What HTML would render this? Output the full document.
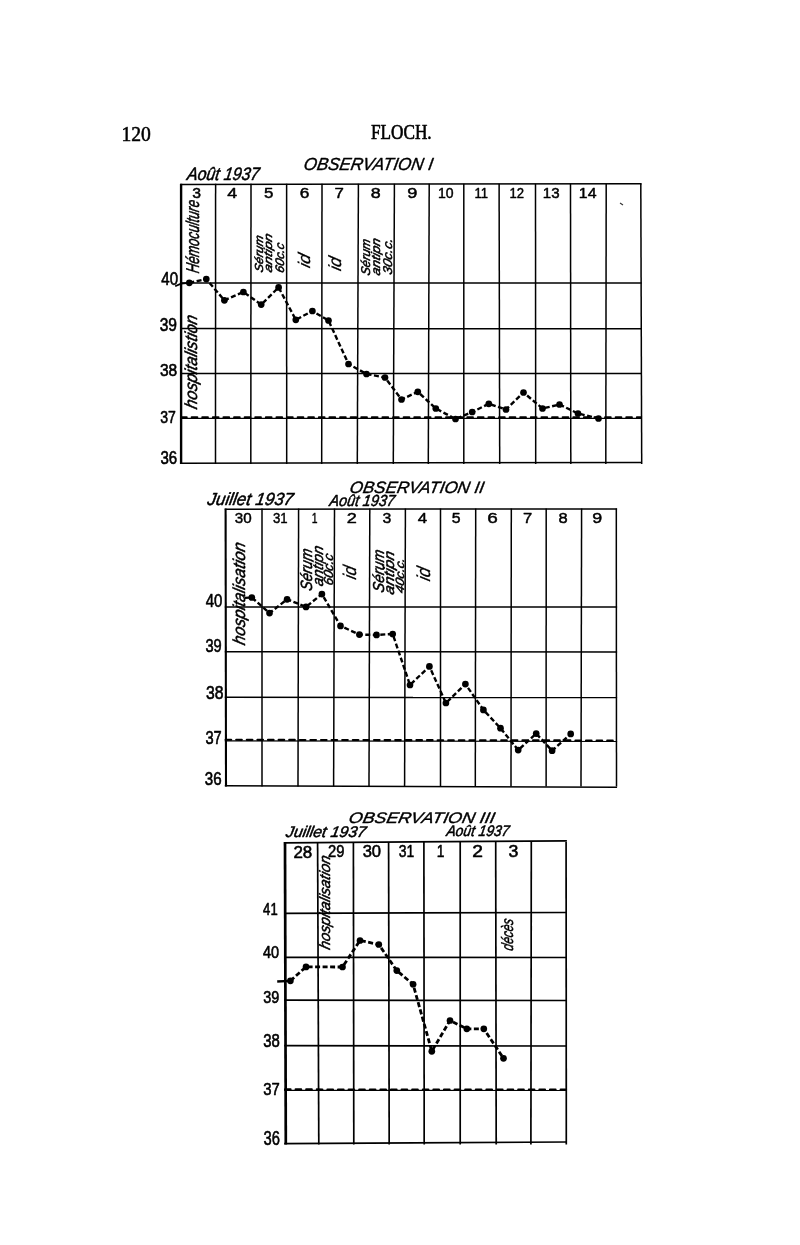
<!DOCTYPE html>
<html lang="fr"><head><meta charset="utf-8"><title>FLOCH. — Observations I, II, III</title>
<style>
html,body{margin:0;padding:0;background:#fff;}
body{width:800px;height:1245px;overflow:hidden;}
svg{display:block;}
text{white-space:pre;}
</style></head><body>
<svg width="800" height="1245" viewBox="0 0 800 1245">
<defs><filter id="soft" x="0" y="0" width="100%" height="100%" filterUnits="userSpaceOnUse"><feGaussianBlur stdDeviation="0.35"/></filter></defs>
<rect width="800" height="1245" fill="#fff"/>
<g filter="url(#soft)">
<text transform="translate(121.38,140.60) scale(0.974,1)" font-family='"Liberation Serif", serif' font-size="20.15" fill="#060606" stroke="#060606" stroke-width="0.55" stroke-linejoin="round">120</text>
<text transform="translate(370.98,138.70) scale(0.853,1)" font-family='"Liberation Serif", serif' font-size="20.15" fill="#060606" stroke="#060606" stroke-width="0.65" stroke-linejoin="round">FLOCH.</text>
<line x1="181.10" y1="183.70" x2="181.10" y2="463.90" stroke="#060606" stroke-width="2.4"/>
<line x1="215.60" y1="183.70" x2="215.50" y2="463.90" stroke="#060606" stroke-width="1.5"/>
<line x1="251.00" y1="183.70" x2="250.80" y2="463.90" stroke="#060606" stroke-width="1.5"/>
<line x1="286.60" y1="183.70" x2="286.70" y2="463.90" stroke="#060606" stroke-width="1.5"/>
<line x1="322.00" y1="183.70" x2="321.70" y2="463.90" stroke="#060606" stroke-width="1.5"/>
<line x1="358.40" y1="183.70" x2="357.30" y2="463.90" stroke="#060606" stroke-width="1.5"/>
<line x1="394.40" y1="183.70" x2="393.30" y2="463.90" stroke="#060606" stroke-width="1.5"/>
<line x1="429.20" y1="183.70" x2="428.30" y2="463.90" stroke="#060606" stroke-width="1.5"/>
<line x1="463.80" y1="183.70" x2="463.80" y2="463.90" stroke="#060606" stroke-width="1.5"/>
<line x1="499.10" y1="183.70" x2="499.70" y2="463.90" stroke="#060606" stroke-width="1.5"/>
<line x1="535.50" y1="183.70" x2="535.70" y2="463.90" stroke="#060606" stroke-width="1.5"/>
<line x1="570.50" y1="183.70" x2="570.80" y2="463.90" stroke="#060606" stroke-width="1.5"/>
<line x1="606.20" y1="183.70" x2="605.80" y2="463.90" stroke="#060606" stroke-width="1.5"/>
<line x1="640.80" y1="183.70" x2="641.70" y2="463.90" stroke="#060606" stroke-width="1.5"/>
<line x1="180.30" y1="184.40" x2="641.60" y2="183.80" stroke="#060606" stroke-width="1.5"/>
<line x1="180.30" y1="283.00" x2="641.60" y2="283.10" stroke="#060606" stroke-width="1.5"/>
<line x1="180.30" y1="328.50" x2="641.60" y2="328.80" stroke="#060606" stroke-width="1.5"/>
<line x1="180.30" y1="373.50" x2="641.60" y2="373.60" stroke="#060606" stroke-width="1.5"/>
<line x1="180.30" y1="418.40" x2="641.60" y2="418.40" stroke="#060606" stroke-width="1.15"/>
<line x1="180.30" y1="463.20" x2="641.60" y2="462.50" stroke="#060606" stroke-width="1.5"/>
<line x1="181.1" y1="417.3" x2="640.8" y2="417.3" stroke="#060606" stroke-width="2.1" stroke-dasharray="5.6 5" stroke-linecap="round"/>
<text transform="translate(303.10,169.50) scale(0.970,1) skewX(-10)" font-family='"Liberation Sans", sans-serif' font-size="17.45" fill="#060606" font-style="italic" stroke="#060606" stroke-width="0.4" stroke-linejoin="round">OBSERVATION I</text>
<text transform="translate(186.38,180.00) scale(0.877,1) skewX(-10)" font-family='"Liberation Sans", sans-serif' font-size="18.04" fill="#060606" font-style="italic" stroke="#060606" stroke-width="0.5" stroke-linejoin="round">Août 1937</text>
<text transform="translate(192.16,198.00) scale(1.128,1)" font-family='"Liberation Sans", sans-serif' font-size="13.99" fill="#060606" stroke="#060606" stroke-width="0.45" stroke-linejoin="round">3</text>
<text transform="translate(227.20,198.00) scale(1.274,1)" font-family='"Liberation Sans", sans-serif' font-size="13.99" fill="#060606" stroke="#060606" stroke-width="0.45" stroke-linejoin="round">4</text>
<text transform="translate(263.93,198.00) scale(1.204,1)" font-family='"Liberation Sans", sans-serif' font-size="13.99" fill="#060606" stroke="#060606" stroke-width="0.45" stroke-linejoin="round">5</text>
<text transform="translate(299.74,198.00) scale(1.236,1)" font-family='"Liberation Sans", sans-serif' font-size="13.99" fill="#060606" stroke="#060606" stroke-width="0.45" stroke-linejoin="round">6</text>
<text transform="translate(334.42,198.00) scale(1.200,1)" font-family='"Liberation Sans", sans-serif' font-size="13.99" fill="#060606" stroke="#060606" stroke-width="0.45" stroke-linejoin="round">7</text>
<text transform="translate(370.84,198.00) scale(1.277,1)" font-family='"Liberation Sans", sans-serif' font-size="13.99" fill="#060606" stroke="#060606" stroke-width="0.45" stroke-linejoin="round">8</text>
<text transform="translate(407.34,198.00) scale(1.298,1)" font-family='"Liberation Sans", sans-serif' font-size="13.99" fill="#060606" stroke="#060606" stroke-width="0.45" stroke-linejoin="round">9</text>
<text transform="translate(437.95,198.00) scale(1.003,1)" font-family='"Liberation Sans", sans-serif' font-size="13.99" fill="#060606" stroke="#060606" stroke-width="0.45" stroke-linejoin="round">10</text>
<text transform="translate(474.42,198.00) scale(0.937,1)" font-family='"Liberation Sans", sans-serif' font-size="13.99" fill="#060606" stroke="#060606" stroke-width="0.45" stroke-linejoin="round">11</text>
<text transform="translate(509.52,198.00) scale(0.936,1)" font-family='"Liberation Sans", sans-serif' font-size="13.99" fill="#060606" stroke="#060606" stroke-width="0.45" stroke-linejoin="round">12</text>
<text transform="translate(542.87,198.00) scale(1.080,1)" font-family='"Liberation Sans", sans-serif' font-size="13.99" fill="#060606" stroke="#060606" stroke-width="0.45" stroke-linejoin="round">13</text>
<text transform="translate(578.81,198.00) scale(1.135,1)" font-family='"Liberation Sans", sans-serif' font-size="13.99" fill="#060606" stroke="#060606" stroke-width="0.45" stroke-linejoin="round">14</text>
<text transform="translate(161.26,284.50) scale(0.859,1)" font-family='"Liberation Sans", sans-serif' font-size="17.53" fill="#060606" stroke="#060606" stroke-width="0.6" stroke-linejoin="round">40</text>
<text transform="translate(159.72,331.40) scale(0.874,1)" font-family='"Liberation Sans", sans-serif' font-size="17.81" fill="#060606" stroke="#060606" stroke-width="0.6" stroke-linejoin="round">39</text>
<text transform="translate(159.92,375.60) scale(0.947,1)" font-family='"Liberation Sans", sans-serif' font-size="16.40" fill="#060606" stroke="#060606" stroke-width="0.6" stroke-linejoin="round">38</text>
<text transform="translate(160.27,422.50) scale(0.830,1)" font-family='"Liberation Sans", sans-serif' font-size="16.96" fill="#060606" stroke="#060606" stroke-width="0.6" stroke-linejoin="round">37</text>
<text transform="translate(160.44,464.00) scale(0.832,1)" font-family='"Liberation Sans", sans-serif' font-size="18.09" fill="#060606" stroke="#060606" stroke-width="0.6" stroke-linejoin="round">36</text>
<text transform="translate(198.75,273.85) rotate(-90) scale(0.694,1) skewX(-14)" font-family='"Liberation Sans", sans-serif' font-size="18.55" fill="#060606" font-style="italic" stroke="#060606" stroke-width="0.5" stroke-linejoin="round">Hémoculture</text>
<text transform="translate(197.00,409.75) rotate(-90) scale(0.931,1) skewX(-14)" font-family='"Liberation Sans", sans-serif' font-size="17.38" fill="#060606" font-style="italic" stroke="#060606" stroke-width="0.5" stroke-linejoin="round">hospitalistion</text>
<text transform="translate(262.50,273.06) rotate(-90) scale(1.072,1) skewX(-14)" font-family='"Liberation Sans", sans-serif' font-size="11.66" fill="#060606" font-style="italic" stroke="#060606" stroke-width="0.5" stroke-linejoin="round">Sérum</text>
<text transform="translate(272.25,273.09) rotate(-90) scale(1.234,1) skewX(-14)" font-family='"Liberation Sans", sans-serif' font-size="11.45" fill="#060606" font-style="italic" stroke="#060606" stroke-width="0.5" stroke-linejoin="round">antipn</text>
<text transform="translate(284.00,273.40) rotate(-90) scale(1.005,1) skewX(-14)" font-family='"Liberation Sans", sans-serif' font-size="12.37" fill="#060606" font-style="italic" stroke="#060606" stroke-width="0.5" stroke-linejoin="round">60c.c</text>
<text transform="translate(309.70,268.46) rotate(-90) scale(1.020,1) skewX(-14)" font-family='"Liberation Sans", sans-serif' font-size="16.87" fill="#060606" font-style="italic" stroke="#060606" stroke-width="0.3" stroke-linejoin="round">id</text>
<text transform="translate(340.50,271.45) rotate(-90) scale(0.955,1) skewX(-14)" font-family='"Liberation Sans", sans-serif' font-size="17.69" fill="#060606" font-style="italic" stroke="#060606" stroke-width="0.3" stroke-linejoin="round">id</text>
<text transform="translate(369.75,276.06) rotate(-90) scale(0.964,1) skewX(-14)" font-family='"Liberation Sans", sans-serif' font-size="12.72" fill="#060606" font-style="italic" stroke="#060606" stroke-width="0.5" stroke-linejoin="round">Sérum</text>
<text transform="translate(379.80,276.11) rotate(-90) scale(1.092,1) skewX(-14)" font-family='"Liberation Sans", sans-serif' font-size="12.37" fill="#060606" font-style="italic" stroke="#060606" stroke-width="0.5" stroke-linejoin="round">antipn</text>
<text transform="translate(392.25,275.31) rotate(-90) scale(1.071,1) skewX(-14)" font-family='"Liberation Sans", sans-serif' font-size="12.72" fill="#060606" font-style="italic" stroke="#060606" stroke-width="0.5" stroke-linejoin="round">30c.c.</text>
<polyline points="189.3,282.8 206.3,279.1 224.4,300.3 243.4,292.0 261.2,304.6 278.6,287.4 295.8,319.8 312.4,311.0 328.5,320.5 348.5,364.0 366.5,374.0 385.0,377.5 401.5,399.5 417.8,391.8 435.8,408.5 455.5,419.0 472.2,412.0 488.8,403.8 506.0,409.5 523.5,392.5 542.5,408.5 559.5,404.5 578.0,413.5 598.5,418.5" fill="none" stroke="#060606" stroke-width="2.4" stroke-dasharray="5 2.5" stroke-linejoin="round"/>
<circle cx="189.3" cy="282.8" r="3.35" fill="#060606"/>
<circle cx="206.3" cy="279.1" r="3.35" fill="#060606"/>
<circle cx="224.4" cy="300.3" r="3.35" fill="#060606"/>
<circle cx="243.4" cy="292.0" r="3.35" fill="#060606"/>
<circle cx="261.2" cy="304.6" r="3.35" fill="#060606"/>
<circle cx="278.6" cy="287.4" r="3.35" fill="#060606"/>
<circle cx="295.8" cy="319.8" r="3.35" fill="#060606"/>
<circle cx="312.4" cy="311.0" r="3.35" fill="#060606"/>
<circle cx="328.5" cy="320.5" r="3.35" fill="#060606"/>
<circle cx="348.5" cy="364.0" r="3.35" fill="#060606"/>
<circle cx="366.5" cy="374.0" r="3.35" fill="#060606"/>
<circle cx="385.0" cy="377.5" r="3.35" fill="#060606"/>
<circle cx="401.5" cy="399.5" r="3.35" fill="#060606"/>
<circle cx="417.8" cy="391.8" r="3.35" fill="#060606"/>
<circle cx="435.8" cy="408.5" r="3.35" fill="#060606"/>
<circle cx="455.5" cy="419.0" r="3.35" fill="#060606"/>
<circle cx="472.2" cy="412.0" r="3.35" fill="#060606"/>
<circle cx="488.8" cy="403.8" r="3.35" fill="#060606"/>
<circle cx="506.0" cy="409.5" r="3.35" fill="#060606"/>
<circle cx="523.5" cy="392.5" r="3.35" fill="#060606"/>
<circle cx="542.5" cy="408.5" r="3.35" fill="#060606"/>
<circle cx="559.5" cy="404.5" r="3.35" fill="#060606"/>
<circle cx="578.0" cy="413.5" r="3.35" fill="#060606"/>
<circle cx="598.5" cy="418.5" r="3.35" fill="#060606"/>
<path d="M175.2 286.3 L181 283.6 L189 282.8" stroke="#060606" stroke-width="1.8" fill="none"/>
<path d="M620 203 l3 2" stroke="#333" stroke-width="1.2" fill="none"/>
<line x1="225.60" y1="508.50" x2="226.00" y2="786.50" stroke="#060606" stroke-width="2.1"/>
<line x1="262.00" y1="508.50" x2="262.00" y2="786.50" stroke="#060606" stroke-width="1.5"/>
<line x1="298.60" y1="508.50" x2="298.00" y2="786.50" stroke="#060606" stroke-width="1.5"/>
<line x1="334.50" y1="508.50" x2="333.60" y2="786.50" stroke="#060606" stroke-width="1.5"/>
<line x1="369.80" y1="508.50" x2="369.00" y2="786.50" stroke="#060606" stroke-width="1.5"/>
<line x1="405.40" y1="508.50" x2="404.60" y2="786.50" stroke="#060606" stroke-width="1.5"/>
<line x1="440.50" y1="508.50" x2="440.50" y2="786.50" stroke="#060606" stroke-width="1.5"/>
<line x1="475.70" y1="508.50" x2="475.30" y2="786.50" stroke="#060606" stroke-width="1.5"/>
<line x1="511.30" y1="508.50" x2="511.00" y2="786.50" stroke="#060606" stroke-width="1.5"/>
<line x1="546.20" y1="508.50" x2="546.10" y2="786.50" stroke="#060606" stroke-width="1.5"/>
<line x1="581.60" y1="508.50" x2="581.00" y2="786.50" stroke="#060606" stroke-width="1.5"/>
<line x1="616.30" y1="508.50" x2="616.50" y2="786.50" stroke="#060606" stroke-width="1.5"/>
<line x1="224.80" y1="509.20" x2="617.10" y2="509.00" stroke="#060606" stroke-width="1.5"/>
<line x1="224.80" y1="606.90" x2="617.10" y2="607.00" stroke="#060606" stroke-width="1.5"/>
<line x1="224.80" y1="651.70" x2="617.10" y2="652.00" stroke="#060606" stroke-width="1.5"/>
<line x1="224.80" y1="697.30" x2="617.10" y2="697.60" stroke="#060606" stroke-width="1.5"/>
<line x1="224.80" y1="740.80" x2="617.10" y2="741.50" stroke="#060606" stroke-width="1.15"/>
<line x1="224.80" y1="785.80" x2="617.10" y2="787.20" stroke="#060606" stroke-width="1.5"/>
<line x1="225.6" y1="739.8" x2="616.3" y2="740.5" stroke="#060606" stroke-width="2.1" stroke-dasharray="5.6 5" stroke-linecap="round"/>
<text transform="translate(349.10,492.80) scale(1.032,1) skewX(-10)" font-family='"Liberation Sans", sans-serif' font-size="16.44" fill="#060606" font-style="italic" stroke="#060606" stroke-width="0.4" stroke-linejoin="round">OBSERVATION II</text>
<text transform="translate(206.82,504.50) scale(0.971,1) skewX(-10)" font-family='"Liberation Sans", sans-serif' font-size="17.45" fill="#060606" font-style="italic" stroke="#060606" stroke-width="0.5" stroke-linejoin="round">Juillet 1937</text>
<text transform="translate(328.96,505.50) scale(0.895,1) skewX(-10)" font-family='"Liberation Sans", sans-serif' font-size="16.00" fill="#060606" font-style="italic" stroke="#060606" stroke-width="0.5" stroke-linejoin="round">Août 1937</text>
<text transform="translate(234.68,523.20) scale(1.045,1)" font-family='"Liberation Sans", sans-serif' font-size="14.56" fill="#060606" stroke="#060606" stroke-width="0.45" stroke-linejoin="round">30</text>
<text transform="translate(273.01,523.20) scale(0.905,1)" font-family='"Liberation Sans", sans-serif' font-size="14.56" fill="#060606" stroke="#060606" stroke-width="0.45" stroke-linejoin="round">31</text>
<text transform="translate(311.72,523.20) scale(0.715,1)" font-family='"Liberation Sans", sans-serif' font-size="14.56" fill="#060606" stroke="#060606" stroke-width="0.45" stroke-linejoin="round">1</text>
<text transform="translate(346.84,523.20) scale(1.245,1)" font-family='"Liberation Sans", sans-serif' font-size="14.56" fill="#060606" stroke="#060606" stroke-width="0.45" stroke-linejoin="round">2</text>
<text transform="translate(382.41,523.20) scale(1.085,1)" font-family='"Liberation Sans", sans-serif' font-size="14.56" fill="#060606" stroke="#060606" stroke-width="0.45" stroke-linejoin="round">3</text>
<text transform="translate(417.87,523.20) scale(1.163,1)" font-family='"Liberation Sans", sans-serif' font-size="14.56" fill="#060606" stroke="#060606" stroke-width="0.45" stroke-linejoin="round">4</text>
<text transform="translate(451.87,523.20) scale(1.085,1)" font-family='"Liberation Sans", sans-serif' font-size="14.56" fill="#060606" stroke="#060606" stroke-width="0.45" stroke-linejoin="round">5</text>
<text transform="translate(487.30,523.20) scale(1.300,1)" font-family='"Liberation Sans", sans-serif' font-size="14.56" fill="#060606" stroke="#060606" stroke-width="0.45" stroke-linejoin="round">6</text>
<text transform="translate(522.88,523.20) scale(1.138,1)" font-family='"Liberation Sans", sans-serif' font-size="14.56" fill="#060606" stroke="#060606" stroke-width="0.45" stroke-linejoin="round">7</text>
<text transform="translate(558.55,523.20) scale(1.133,1)" font-family='"Liberation Sans", sans-serif' font-size="14.56" fill="#060606" stroke="#060606" stroke-width="0.45" stroke-linejoin="round">8</text>
<text transform="translate(592.15,523.20) scale(1.225,1)" font-family='"Liberation Sans", sans-serif' font-size="14.56" fill="#060606" stroke="#060606" stroke-width="0.45" stroke-linejoin="round">9</text>
<text transform="translate(205.66,606.50) scale(0.810,1)" font-family='"Liberation Sans", sans-serif' font-size="18.52" fill="#060606" stroke="#060606" stroke-width="0.6" stroke-linejoin="round">40</text>
<text transform="translate(205.45,652.25) scale(0.810,1)" font-family='"Liberation Sans", sans-serif' font-size="18.02" fill="#060606" stroke="#060606" stroke-width="0.6" stroke-linejoin="round">39</text>
<text transform="translate(205.91,699.20) scale(0.869,1)" font-family='"Liberation Sans", sans-serif' font-size="18.09" fill="#060606" stroke="#060606" stroke-width="0.6" stroke-linejoin="round">38</text>
<text transform="translate(205.45,743.60) scale(0.811,1)" font-family='"Liberation Sans", sans-serif' font-size="18.09" fill="#060606" stroke="#060606" stroke-width="0.6" stroke-linejoin="round">37</text>
<text transform="translate(204.83,785.40) scale(0.857,1)" font-family='"Liberation Sans", sans-serif' font-size="17.67" fill="#060606" stroke="#060606" stroke-width="0.6" stroke-linejoin="round">36</text>
<text transform="translate(244.80,645.70) rotate(-90) scale(0.936,1) skewX(-14)" font-family='"Liberation Sans", sans-serif' font-size="17.24" fill="#060606" font-style="italic" stroke="#060606" stroke-width="0.5" stroke-linejoin="round">hospitalisation</text>
<text transform="translate(311.90,591.55) rotate(-90) scale(0.873,1) skewX(-14)" font-family='"Liberation Sans", sans-serif' font-size="16.25" fill="#060606" font-style="italic" stroke="#060606" stroke-width="0.5" stroke-linejoin="round">Sérum</text>
<text transform="translate(322.60,586.77) rotate(-90) scale(0.977,1) skewX(-14)" font-family='"Liberation Sans", sans-serif' font-size="14.96" fill="#060606" font-style="italic" stroke="#060606" stroke-width="0.5" stroke-linejoin="round">antipn</text>
<text transform="translate(332.50,585.99) rotate(-90) scale(0.988,1) skewX(-14)" font-family='"Liberation Sans", sans-serif' font-size="13.29" fill="#060606" font-style="italic" stroke="#060606" stroke-width="0.5" stroke-linejoin="round">60c.c</text>
<text transform="translate(355.80,579.94) rotate(-90) scale(0.881,1) skewX(-14)" font-family='"Liberation Sans", sans-serif' font-size="18.37" fill="#060606" font-style="italic" stroke="#060606" stroke-width="0.3" stroke-linejoin="round">id</text>
<text transform="translate(384.00,593.16) rotate(-90) scale(0.910,1) skewX(-14)" font-family='"Liberation Sans", sans-serif' font-size="15.83" fill="#060606" font-style="italic" stroke="#060606" stroke-width="0.5" stroke-linejoin="round">Sérum</text>
<text transform="translate(394.40,595.14) rotate(-90) scale(1.094,1) skewX(-14)" font-family='"Liberation Sans", sans-serif' font-size="14.35" fill="#060606" font-style="italic" stroke="#060606" stroke-width="0.5" stroke-linejoin="round">antipn</text>
<text transform="translate(403.75,593.82) rotate(-90) scale(1.096,1) skewX(-14)" font-family='"Liberation Sans", sans-serif' font-size="12.01" fill="#060606" font-style="italic" stroke="#060606" stroke-width="0.5" stroke-linejoin="round">40c.c.</text>
<text transform="translate(430.20,581.76) rotate(-90) scale(0.905,1) skewX(-14)" font-family='"Liberation Sans", sans-serif' font-size="18.78" fill="#060606" font-style="italic" stroke="#060606" stroke-width="0.3" stroke-linejoin="round">id</text>
<polyline points="244.6,597.9 251.8,597.5 269.5,613.1 287.1,599.3 306.0,606.9 321.9,594.1 340.5,625.9 359.4,634.6 376.5,634.9 392.7,634.0 410.0,685.0 429.4,666.4 445.9,703.0 465.4,684.1 483.4,709.9 500.5,728.2 518.2,750.1 536.2,733.6 552.1,750.7 570.7,733.9" fill="none" stroke="#060606" stroke-width="2.4" stroke-dasharray="5 2.5" stroke-linejoin="round"/>
<circle cx="251.8" cy="597.5" r="3.35" fill="#060606"/>
<circle cx="269.5" cy="613.1" r="3.35" fill="#060606"/>
<circle cx="287.1" cy="599.3" r="3.35" fill="#060606"/>
<circle cx="306.0" cy="606.9" r="3.35" fill="#060606"/>
<circle cx="321.9" cy="594.1" r="3.35" fill="#060606"/>
<circle cx="340.5" cy="625.9" r="3.35" fill="#060606"/>
<circle cx="359.4" cy="634.6" r="3.35" fill="#060606"/>
<circle cx="376.5" cy="634.9" r="3.35" fill="#060606"/>
<circle cx="392.7" cy="634.0" r="3.35" fill="#060606"/>
<circle cx="410.0" cy="685.0" r="3.35" fill="#060606"/>
<circle cx="429.4" cy="666.4" r="3.35" fill="#060606"/>
<circle cx="445.9" cy="703.0" r="3.35" fill="#060606"/>
<circle cx="465.4" cy="684.1" r="3.35" fill="#060606"/>
<circle cx="483.4" cy="709.9" r="3.35" fill="#060606"/>
<circle cx="500.5" cy="728.2" r="3.35" fill="#060606"/>
<circle cx="518.2" cy="750.1" r="3.35" fill="#060606"/>
<circle cx="536.2" cy="733.6" r="3.35" fill="#060606"/>
<circle cx="552.1" cy="750.7" r="3.35" fill="#060606"/>
<circle cx="570.7" cy="733.9" r="3.35" fill="#060606"/>
<line x1="285.00" y1="842.10" x2="285.80" y2="1144.40" stroke="#060606" stroke-width="2.7"/>
<line x1="317.60" y1="842.10" x2="318.80" y2="1144.40" stroke="#060606" stroke-width="1.7"/>
<line x1="353.40" y1="842.10" x2="353.80" y2="1144.40" stroke="#060606" stroke-width="1.7"/>
<line x1="388.60" y1="842.10" x2="389.20" y2="1144.40" stroke="#060606" stroke-width="1.7"/>
<line x1="423.90" y1="842.10" x2="424.20" y2="1144.40" stroke="#060606" stroke-width="1.7"/>
<line x1="460.20" y1="842.10" x2="460.20" y2="1144.40" stroke="#060606" stroke-width="1.7"/>
<line x1="495.70" y1="842.10" x2="496.20" y2="1144.40" stroke="#060606" stroke-width="1.7"/>
<line x1="531.30" y1="842.10" x2="530.90" y2="1144.40" stroke="#060606" stroke-width="1.7"/>
<line x1="566.10" y1="842.10" x2="566.30" y2="1144.40" stroke="#060606" stroke-width="1.7"/>
<line x1="284.20" y1="842.80" x2="566.90" y2="840.80" stroke="#060606" stroke-width="1.7"/>
<line x1="284.20" y1="913.30" x2="566.90" y2="912.50" stroke="#060606" stroke-width="1.7"/>
<line x1="284.20" y1="957.30" x2="566.90" y2="957.50" stroke="#060606" stroke-width="1.7"/>
<line x1="284.20" y1="1000.10" x2="566.90" y2="1000.50" stroke="#060606" stroke-width="1.7"/>
<line x1="284.20" y1="1045.70" x2="566.90" y2="1046.00" stroke="#060606" stroke-width="1.7"/>
<line x1="284.20" y1="1090.30" x2="566.90" y2="1090.50" stroke="#060606" stroke-width="1.15"/>
<line x1="284.20" y1="1143.70" x2="566.90" y2="1142.00" stroke="#060606" stroke-width="1.7"/>
<line x1="285.0" y1="1089.4" x2="566.1" y2="1089.6" stroke="#060606" stroke-width="2.1" stroke-dasharray="5.6 5" stroke-linecap="round"/>
<text transform="translate(348.05,822.60) scale(1.167,1) skewX(-10)" font-family='"Liberation Sans", sans-serif' font-size="15.27" fill="#060606" font-style="italic" stroke="#060606" stroke-width="0.4" stroke-linejoin="round">OBSERVATION III</text>
<text transform="translate(285.32,836.50) scale(1.025,1) skewX(-10)" font-family='"Liberation Sans", sans-serif' font-size="15.42" fill="#060606" font-style="italic" stroke="#060606" stroke-width="0.5" stroke-linejoin="round">Juillet 1937</text>
<text transform="translate(445.93,835.60) scale(0.902,1) skewX(-10)" font-family='"Liberation Sans", sans-serif' font-size="15.27" fill="#060606" font-style="italic" stroke="#060606" stroke-width="0.5" stroke-linejoin="round">Août 1937</text>
<text transform="translate(293.40,857.90) scale(1.034,1)" font-family='"Liberation Sans", sans-serif' font-size="16.40" fill="#060606" stroke="#060606" stroke-width="0.55" stroke-linejoin="round">28</text>
<text transform="translate(328.01,857.40) scale(0.901,1)" font-family='"Liberation Sans", sans-serif' font-size="16.40" fill="#060606" stroke="#060606" stroke-width="0.55" stroke-linejoin="round">29</text>
<text transform="translate(362.63,857.40) scale(1.011,1)" font-family='"Liberation Sans", sans-serif' font-size="16.40" fill="#060606" stroke="#060606" stroke-width="0.55" stroke-linejoin="round">30</text>
<text transform="translate(398.73,857.40) scale(0.848,1)" font-family='"Liberation Sans", sans-serif' font-size="16.40" fill="#060606" stroke="#060606" stroke-width="0.55" stroke-linejoin="round">31</text>
<text transform="translate(436.76,857.10) scale(0.846,1)" font-family='"Liberation Sans", sans-serif' font-size="16.40" fill="#060606" stroke="#060606" stroke-width="0.55" stroke-linejoin="round">1</text>
<text transform="translate(472.29,856.90) scale(1.173,1)" font-family='"Liberation Sans", sans-serif' font-size="16.40" fill="#060606" stroke="#060606" stroke-width="0.55" stroke-linejoin="round">2</text>
<text transform="translate(508.44,856.90) scale(1.079,1)" font-family='"Liberation Sans", sans-serif' font-size="16.40" fill="#060606" stroke="#060606" stroke-width="0.55" stroke-linejoin="round">3</text>
<text transform="translate(263.11,915.30) scale(0.765,1)" font-family='"Liberation Sans", sans-serif' font-size="17.10" fill="#060606" stroke="#060606" stroke-width="0.6" stroke-linejoin="round">41</text>
<text transform="translate(263.07,958.30) scale(0.850,1)" font-family='"Liberation Sans", sans-serif' font-size="17.03" fill="#060606" stroke="#060606" stroke-width="0.6" stroke-linejoin="round">40</text>
<text transform="translate(263.26,1002.50) scale(0.849,1)" font-family='"Liberation Sans", sans-serif' font-size="16.96" fill="#060606" stroke="#060606" stroke-width="0.6" stroke-linejoin="round">39</text>
<text transform="translate(263.24,1047.30) scale(0.846,1)" font-family='"Liberation Sans", sans-serif' font-size="17.67" fill="#060606" stroke="#060606" stroke-width="0.6" stroke-linejoin="round">38</text>
<text transform="translate(263.24,1095.40) scale(0.862,1)" font-family='"Liberation Sans", sans-serif' font-size="17.24" fill="#060606" stroke="#060606" stroke-width="0.6" stroke-linejoin="round">37</text>
<text transform="translate(263.45,1144.90) scale(0.751,1)" font-family='"Liberation Sans", sans-serif' font-size="19.65" fill="#060606" stroke="#060606" stroke-width="0.6" stroke-linejoin="round">36</text>
<text transform="translate(330.40,950.24) rotate(-90) scale(0.975,1) skewX(-14)" font-family='"Liberation Sans", sans-serif' font-size="15.17" fill="#060606" font-style="italic" stroke="#060606" stroke-width="0.5" stroke-linejoin="round">hospitalisation</text>
<text transform="translate(512.50,951.16) rotate(-90) scale(0.728,1) skewX(-14)" font-family='"Liberation Sans", sans-serif' font-size="16.33" fill="#060606" font-style="italic" stroke="#060606" stroke-width="0.5" stroke-linejoin="round">décès</text>
<polyline points="290.4,980.8 306.0,966.9 342.5,967.0 360.0,940.5 378.8,944.5 396.8,970.6 413.1,984.3 431.8,1051.3 450.0,1020.5 466.8,1028.8 483.8,1028.8 503.5,1058.3" fill="none" stroke="#060606" stroke-width="2.8" stroke-dasharray="5 2.5" stroke-linejoin="round"/>
<circle cx="290.4" cy="980.8" r="3.35" fill="#060606"/>
<circle cx="306.0" cy="966.9" r="3.35" fill="#060606"/>
<circle cx="342.5" cy="967.0" r="3.35" fill="#060606"/>
<circle cx="360.0" cy="940.5" r="3.35" fill="#060606"/>
<circle cx="378.8" cy="944.5" r="3.35" fill="#060606"/>
<circle cx="396.8" cy="970.6" r="3.35" fill="#060606"/>
<circle cx="413.1" cy="984.3" r="3.35" fill="#060606"/>
<circle cx="431.8" cy="1051.3" r="3.35" fill="#060606"/>
<circle cx="450.0" cy="1020.5" r="3.35" fill="#060606"/>
<circle cx="466.8" cy="1028.8" r="3.35" fill="#060606"/>
<circle cx="483.8" cy="1028.8" r="3.35" fill="#060606"/>
<circle cx="503.5" cy="1058.3" r="3.35" fill="#060606"/>
<line x1="277.20" y1="981.50" x2="290.40" y2="980.90" stroke="#060606" stroke-width="2.4"/>
</g>
</svg>
</body></html>
